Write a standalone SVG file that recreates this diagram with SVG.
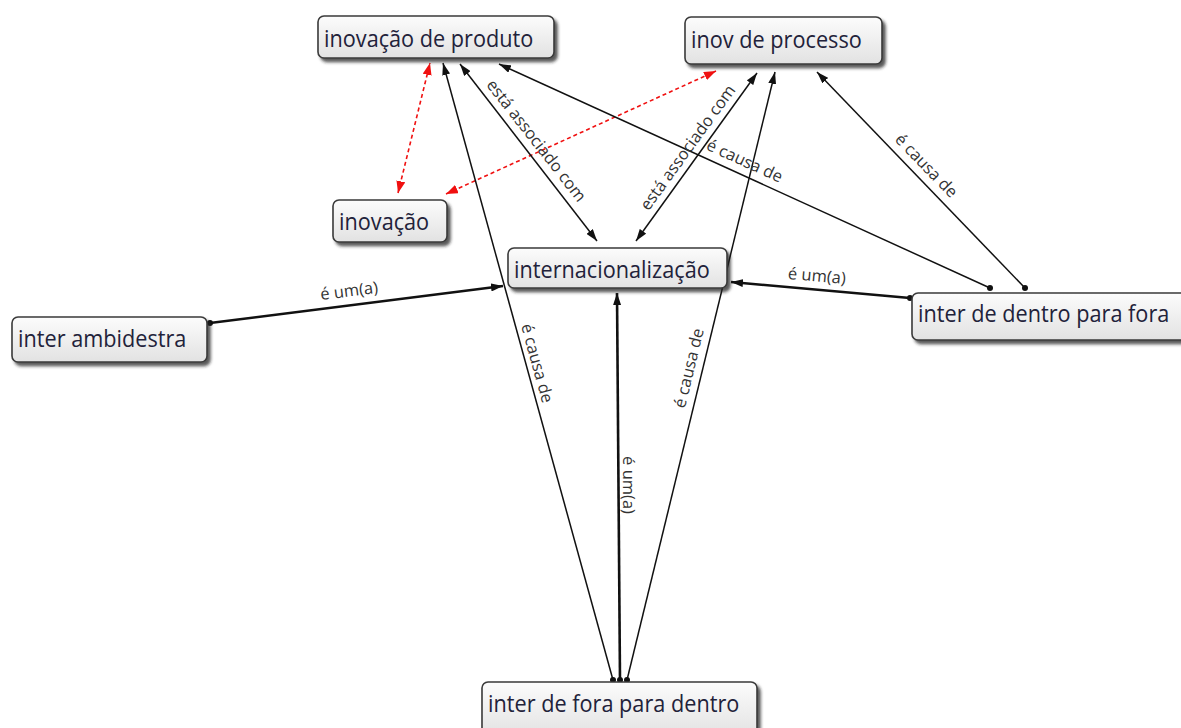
<svg xmlns="http://www.w3.org/2000/svg" width="1181" height="728" viewBox="0 0 1181 728">
<style>
.node rect.box{fill:url(#g);stroke:#3a3a3a;stroke-width:1.6;filter:url(#sh)}
.node text{font-family:"Open Sans","Noto Sans",sans-serif;font-size:21.7px;fill:#22223a}
.lbl{font-family:"Open Sans","Noto Sans",sans-serif;font-size:16.5px;fill:#333;text-anchor:middle;dominant-baseline:central}
.c{fill:none;stroke:#111;stroke-width:1.5}
.t{stroke-width:2.6}
.r{fill:none;stroke:#f01010;stroke-width:1.6;stroke-dasharray:4 3}
</style>
<defs>
<linearGradient id="g" x1="0" y1="0" x2="0" y2="1">
<stop offset="0" stop-color="#fcfcfc"/>
<stop offset="1" stop-color="#e2e2e2"/>
</linearGradient>
<filter id="sh" x="-10%" y="-20%" width="130%" height="160%">
<feDropShadow dx="3" dy="3.5" stdDeviation="1.5" flood-color="#222" flood-opacity="0.75"/>
</filter>
<marker id="a" markerUnits="userSpaceOnUse" markerWidth="12" markerHeight="8" refX="12" refY="4" orient="auto-start-reverse"><path d="M0,0 L12,4 L0,8 z" fill="#111"/></marker>
<marker id="ra" markerUnits="userSpaceOnUse" markerWidth="12" markerHeight="9" refX="12" refY="4.5" orient="auto-start-reverse"><path d="M0,0 L12,4.5 L0,9 z" fill="#f01010"/></marker>
<marker id="d" markerUnits="userSpaceOnUse" markerWidth="7" markerHeight="7" refX="3.5" refY="3.5"><circle cx="3.5" cy="3.5" r="3" fill="#111"/></marker>
</defs>
<rect width="1181" height="728" fill="#fff"/>
<g id="connectors">
<path class="r" d="M398,193 L430,63" marker-start="url(#ra)" marker-end="url(#ra)"/>
<path class="r" d="M446,194 L716,71" marker-start="url(#ra)" marker-end="url(#ra)"/>
<path class="c" d="M460,64 L597,241" marker-start="url(#a)" marker-end="url(#a)"/>
<path class="c" d="M636,241 L757,73" marker-start="url(#a)" marker-end="url(#a)"/>
<path class="c" d="M613,680 L443,63" marker-start="url(#d)" marker-end="url(#a)"/>
<path class="c" d="M627,680 L775,72" marker-start="url(#d)" marker-end="url(#a)"/>
<path class="c t" d="M620,680 L617,293" marker-start="url(#d)" marker-end="url(#a)"/>
<path class="c" d="M990,288 L499,64" marker-start="url(#d)" marker-end="url(#a)"/>
<path class="c" d="M1025,288 L817,72" marker-start="url(#d)" marker-end="url(#a)"/>
<path class="c t" d="M210,323 L503,286" marker-start="url(#d)" marker-end="url(#a)"/>
<path class="c t" d="M910,298 L731,282" marker-start="url(#d)" marker-end="url(#a)"/>
<text class="lbl" transform="translate(537,140) rotate(51.9)">está associado com</text>
<text class="lbl" transform="translate(687,147) rotate(-54.2)">está associado com</text>
<text class="lbl" transform="translate(538,363) rotate(74.6)">é causa de</text>
<text class="lbl" transform="translate(688,368) rotate(-76.3)">é causa de</text>
<text class="lbl" transform="translate(629,485) rotate(90)">é um(a)</text>
<text class="lbl" transform="translate(745,160) rotate(24.5)">é causa de</text>
<text class="lbl" transform="translate(927,165) rotate(45.9)">é causa de</text>
<text class="lbl" transform="translate(349,290) rotate(-7.2)">é um(a)</text>
<text class="lbl" transform="translate(817,275) rotate(5.1)">é um(a)</text>
</g>
<g id="n-produto" class="node"><rect class="box" x="318" y="16" width="236" height="42" rx="6"/><text transform="translate(324,47) scale(1,1.12)">inovação de produto</text></g>
<g id="n-processo" class="node"><rect class="box" x="685" y="17" width="197" height="47" rx="6"/><text transform="translate(691,48) scale(1,1.12)">inov de processo</text></g>
<g id="n-inovacao" class="node"><rect class="box" x="333" y="200" width="114" height="42" rx="6"/><text transform="translate(339,230) scale(1,1.12)">inovação</text></g>
<g id="n-internacionalizacao" class="node"><rect class="box" x="508" y="248" width="219" height="40" rx="6"/><text transform="translate(514,278) scale(1,1.12)">internacionalização</text></g>
<g id="n-ambidestra" class="node"><rect class="box" x="12" y="317" width="195" height="45" rx="6"/><text transform="translate(18,347) scale(1,1.12)">inter ambidestra</text></g>
<g id="n-dentro-fora" class="node"><rect class="box" x="912" y="293" width="285" height="47" rx="6"/><text transform="translate(918,322) scale(1,1.12)">inter de dentro para fora</text></g>
<g id="n-fora-dentro" class="node"><rect class="box" x="482" y="682" width="275" height="55" rx="6"/><text transform="translate(488,712) scale(1,1.12)">inter de fora para dentro</text></g>
</svg>
